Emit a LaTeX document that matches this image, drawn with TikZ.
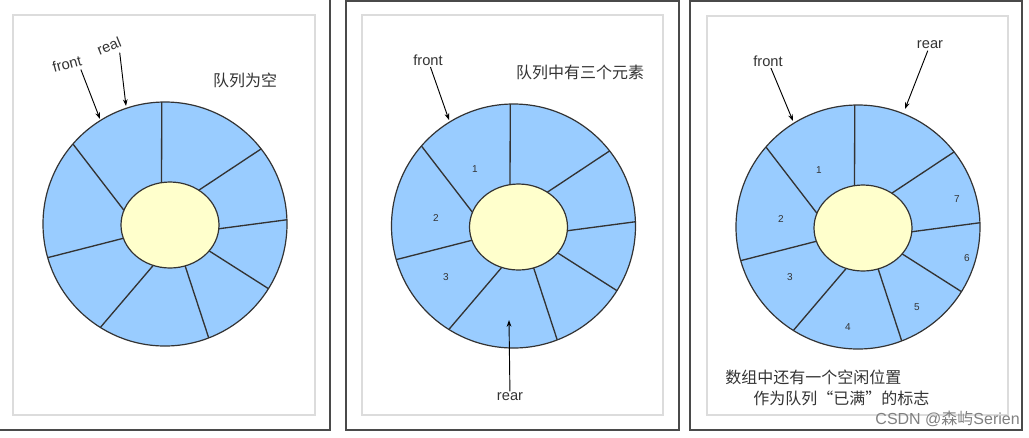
\documentclass[tikz,border=0pt]{standalone}
\usepackage{fontspec}
\setmainfont{Liberation Sans}
\newfontfamily\cjk{Noto Sans CJK SC}
\usetikzlibrary{arrows.meta}
\definecolor{celeste}{HTML}{99CCFF}
\definecolor{giallino}{HTML}{FFFFCC}
\definecolor{dark}{HTML}{333333}
\definecolor{cornice}{HTML}{4A4A4A}
\definecolor{grigino}{HTML}{DCDCDC}

\begin{document}
\begin{tikzpicture}[x=0.75pt, y=-0.75pt,
  freccia/.style={-{Stealth[length=5pt,width=3.5pt]}, line width=0.7pt, black},
  etichetta/.style={font=\fontsize{11}{13}\selectfont, text=dark, inner sep=1pt},
  titolo/.style={font=\cjk\fontsize{12}{14}\selectfont, text=dark, inner sep=0pt},
  numero/.style={font=\fontsize{7.5}{9}\selectfont, text=dark, inner sep=0pt}]
  \useasboundingbox (0,0) rectangle (1029,437);

  % Cornici dei riquadri
  \draw[cornice, line width=1.5pt] (-10,-10) rectangle (330,430);
  \draw[cornice, line width=1.5pt] (346,1) rectangle (679,430);
  \draw[cornice, line width=1.5pt] (690,1) rectangle (1022,430);
  \draw[grigino, line width=1pt] (13,15) rectangle (315,415);
  \draw[grigino, line width=1pt] (362,15) rectangle (663,415);
  \draw[grigino, line width=1pt] (707,16) rectangle (1008,415);

  % Anelli con otto celle
  \foreach \cx/\cy in {165/224, 513.5/226, 858/227}{
    \fill[celeste] (\cx,\cy) circle (122);
    \foreach \t/\a in {100/91.5, 54/38, -5/2, -37/-32, -72/-69, -110/-122, -162/-164, 160/139}
      \draw[dark, line width=1pt]
        ({\cx+5+49*cos(\t)},{\cy+1-43*sin(\t)}) -- ({\cx+122*cos(\a)},{\cy-122*sin(\a)});
    \draw[dark, line width=0.9pt] (\cx,\cy) circle (122);
    \draw[dark, line width=0.9pt, fill=giallino] (\cx+5,\cy+1) ellipse (49 and 43);
  }

  % Coda vuota
  \node[etichetta, rotate=15, inner sep=0pt] (front1) at (67,64) {front};
  \node[etichetta, rotate=22, inner sep=0pt] (real1) at (109,46) {real};
  \coordinate (pf1) at (100,119);
  \coordinate (pr1) at (126,106);
  \draw[freccia] ([shift={(-2,4)}]front1.south east) -- (pf1);
  \draw[freccia] ([shift={(-3,6)}]real1.south east) -- (pr1);
  \node[titolo] (vuota) at (245,80) {队列为空};

  % Coda con tre elementi
  \node[etichetta] (front2) at (428,60) {front};
  \node[etichetta] (rear2) at (510,397) {rear};
  \coordinate (pf2) at (449,120);
  \coordinate (pr2) at (509,320);
  \draw[freccia] (front2) -- (pf2);
  \draw[freccia] (rear2) -- (pr2);
  \node[titolo] (tre) at (580,72) {队列中有三个元素};
  \foreach \n/\px/\py in {1/475/169, 2/436/218, 3/446/277}
    \node[numero] (n2\n) at (\px,\py) {\n};

  % Coda piena
  \node[etichetta] (front3) at (768,61) {front};
  \node[etichetta] (rear3) at (930,45) {rear};
  \coordinate (pf3) at (793,121);
  \coordinate (pr3) at (905,109);
  \draw[freccia] (front3) -- (pf3);
  \draw[freccia] (rear3) -- (pr3);
  \foreach \n/\px/\py in {1/819/170, 2/781/219, 3/790/277, 4/848/327, 5/917/307, 6/967/258, 7/957/199}
    \node[numero] (n3\n) at (\px,\py) {\n};
  \node[titolo, anchor=west] (piena1) at (725,377) {数组中还有一个空闲位置};
  \node[titolo, anchor=west] (piena2) at (753,398) {作为队列“已满”的标志};

  % Filigrana
  \node[font=\fontsize{12}{14}\selectfont, text=gray, anchor=east, inner sep=0pt]
    (csdn) at (1020,419) {CSDN @{\cjk 森屿}Serien};
\end{tikzpicture}
\end{document}
